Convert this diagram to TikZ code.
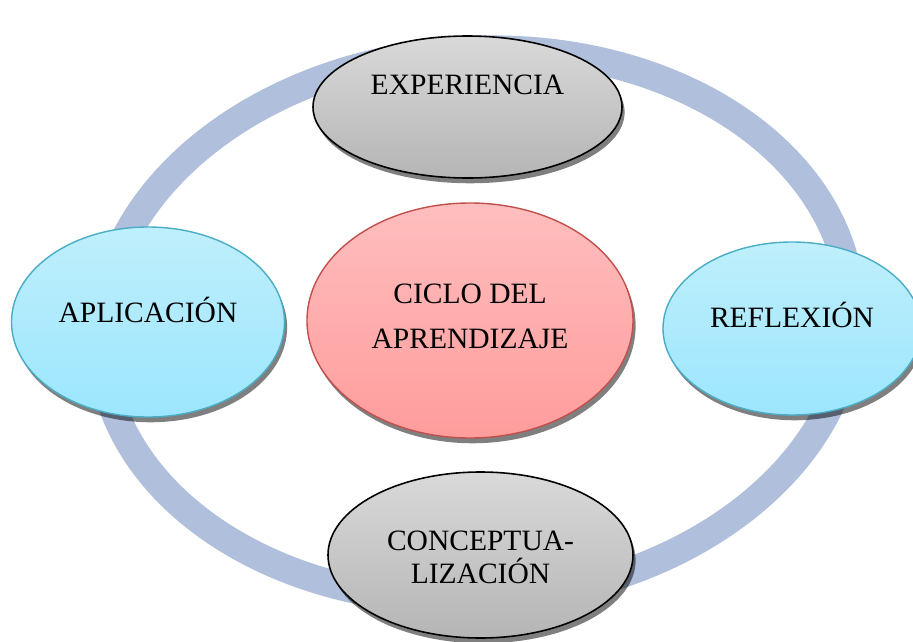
\documentclass[tikz,border=0pt]{standalone}
\usepackage{fontspec}
\setmainfont{Liberation Serif}
\usetikzlibrary{shapes.geometric, shadows}
\definecolor{ringblue}{RGB}{176,192,220}
\definecolor{greytop}{RGB}{217,217,217}
\definecolor{greybot}{RGB}{181,181,181}
\definecolor{cyantop}{RGB}{191,239,252}
\definecolor{cyanbot}{RGB}{156,230,253}
\definecolor{cyanedge}{RGB}{75,172,198}
\definecolor{pinktop}{RGB}{255,190,190}
\definecolor{pinkbot}{RGB}{255,156,156}
\definecolor{pinkedge}{RGB}{192,80,77}

\begin{document}
\begin{tikzpicture}[
    phase/.style={ellipse, inner sep=0pt, drop shadow={shadow xshift=1.5pt, shadow yshift=-3pt, opacity=0.5, fill=black}},
    greyphase/.style={phase, draw=black, line width=0.9pt, top color=greytop, bottom color=greybot},
    cyanphase/.style={phase, draw=cyanedge, line width=0.8pt, top color=cyantop, bottom color=cyanbot},
    pinkphase/.style={phase, draw=pinkedge, line width=0.8pt, top color=pinktop, bottom color=pinkbot},
    txt/.style={font=\fontsize{16.8}{19}\selectfont, align=center, text=black},
    oneline/.style={txt, text height=0.662em, text depth=0pt}
]
    \useasboundingbox (0,0) rectangle (18.26,-12.84);
    % ring behind the phases
    \draw[ringblue, line width=0.56cm] (9.52,-6.5) ellipse [x radius=7.52cm, y radius=5.5cm, rotate=4];

    \node[greyphase, minimum width=6.18cm, minimum height=2.84cm,
        label={[oneline, yshift=0.36cm]center:EXPERIENCIA}] (exp) at (9.35,-2.14) {};
    \node[cyanphase, minimum width=5.46cm, minimum height=3.8cm,
        label={[oneline, yshift=0.11cm]center:APLICACIÓN}] (apl) at (2.96,-6.44) {};
    \node[cyanphase, minimum width=5.16cm, minimum height=3.46cm,
        label={[oneline, yshift=0.13cm]center:REFLEXIÓN}] (refl) at (15.84,-6.57) {};
    \node[pinkphase, minimum width=6.52cm, minimum height=4.7cm,
        label={[txt, font=\fontsize{16.8}{25.6}\selectfont, yshift=0.08cm]center:CICLO DEL\\APRENDIZAJE}] (ciclo) at (9.4,-6.41) {};
    \node[greyphase, minimum width=6.1cm, minimum height=3.32cm,
        label={[txt, font=\fontsize{16.8}{18.8}\selectfont, yshift=-0.05cm]center:CONCEPTUA-\\LIZACIÓN}] (concep) at (9.61,-11.1) {};
\end{tikzpicture}
\end{document}
